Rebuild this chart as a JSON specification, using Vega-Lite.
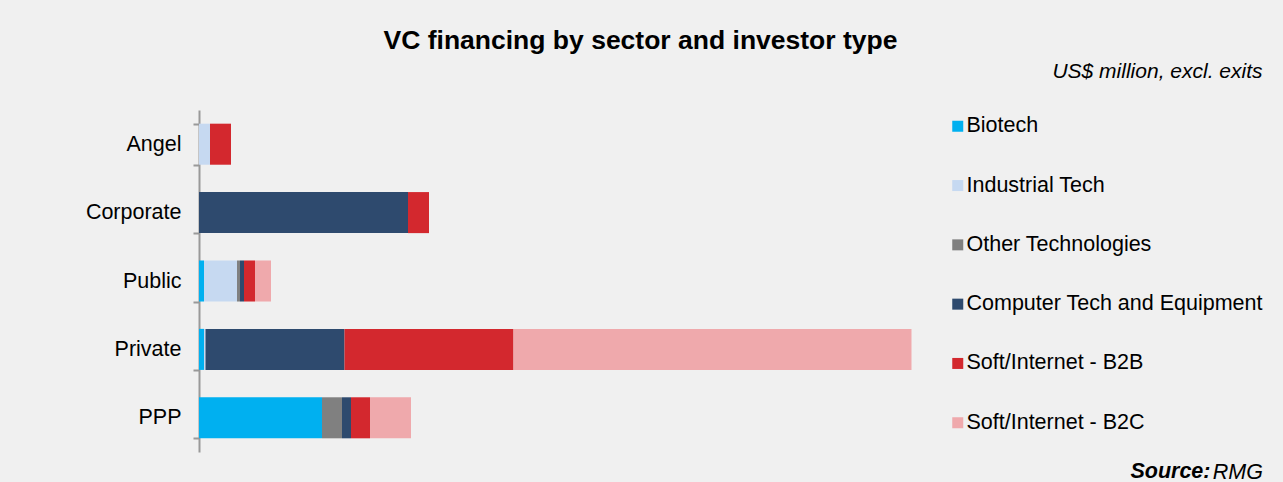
{
  "$schema": "https://vega.github.io/schema/vega-lite/v6.json",
  "width": 721,
  "height": 342,
  "autosize": {"type": "none"},
  "padding": {"left": 199, "top": 110, "right": 363, "bottom": 30},
  "background": "#f0f0f0",
  "title": {
    "text": "VC financing by sector and investor type",
    "anchor": "middle",
    "frame": "group",
    "dx": 81,
    "offset": 6,
    "font": "Liberation Sans",
    "fontSize": 26.5,
    "fontWeight": "bold",
    "color": "#000000"
  },
  "config": {
    "view": {"stroke": null},
    "font": "Liberation Sans"
  },
  "data": {
    "values": [
      {"investor": "Angel", "sector": "Industrial Tech", "idx": 2, "value": 11},
      {"investor": "Angel", "sector": "Soft/Internet - B2B", "idx": 5, "value": 21},
      {"investor": "Corporate", "sector": "Computer Tech and Equipment", "idx": 4, "value": 209},
      {"investor": "Corporate", "sector": "Soft/Internet - B2B", "idx": 5, "value": 21},
      {"investor": "Public", "sector": "Biotech", "idx": 1, "value": 5},
      {"investor": "Public", "sector": "Industrial Tech", "idx": 2, "value": 33},
      {"investor": "Public", "sector": "Other Technologies", "idx": 3, "value": 3},
      {"investor": "Public", "sector": "Computer Tech and Equipment", "idx": 4, "value": 4},
      {"investor": "Public", "sector": "Soft/Internet - B2B", "idx": 5, "value": 11},
      {"investor": "Public", "sector": "Soft/Internet - B2C", "idx": 6, "value": 16},
      {"investor": "Private", "sector": "Biotech", "idx": 1, "value": 5},
      {"investor": "Private", "sector": "Industrial Tech", "idx": 2, "value": 1.5},
      {"investor": "Private", "sector": "Computer Tech and Equipment", "idx": 4, "value": 139},
      {"investor": "Private", "sector": "Soft/Internet - B2B", "idx": 5, "value": 169},
      {"investor": "Private", "sector": "Soft/Internet - B2C", "idx": 6, "value": 398},
      {"investor": "PPP", "sector": "Biotech", "idx": 1, "value": 123},
      {"investor": "PPP", "sector": "Other Technologies", "idx": 3, "value": 20},
      {"investor": "PPP", "sector": "Computer Tech and Equipment", "idx": 4, "value": 9},
      {"investor": "PPP", "sector": "Soft/Internet - B2B", "idx": 5, "value": 19},
      {"investor": "PPP", "sector": "Soft/Internet - B2C", "idx": 6, "value": 41}
    ]
  },
  "mark": {"type": "bar"},
  "encoding": {
    "y": {
      "field": "investor",
      "type": "nominal",
      "sort": ["Angel", "Corporate", "Public", "Private", "PPP"],
      "scale": {"paddingInner": 0.4, "paddingOuter": 0.2},
      "axis": {
        "title": "US$ million, excl. exits",
        "titleAngle": 0,
        "titleX": 1063,
        "titleY": -33,
        "titleAlign": "right",
        "titleBaseline": "alphabetic",
        "titleFont": "Liberation Sans",
        "titleFontSize": 21,
        "titleFontStyle": "italic",
        "titleFontWeight": "normal",
        "titleColor": "#000000",
        "labelFont": "Liberation Sans",
        "labelFontSize": 21.5,
        "labelColor": "#000000",
        "labelPadding": 12,
        "tickBand": "extent",
        "tickSize": 6,
        "tickColor": "#999999",
        "tickWidth": 2,
        "domainColor": "#999999",
        "domainWidth": 2,
        "grid": false
      }
    },
    "x": {
      "field": "value",
      "type": "quantitative",
      "stack": "zero",
      "scale": {"domain": [0, 721], "nice": false},
      "axis": {
        "title": "Source:",
        "labels": false,
        "ticks": false,
        "domain": false,
        "grid": false,
        "titleX": 1011,
        "titleY": 25,
        "titleAlign": "right",
        "titleBaseline": "alphabetic",
        "titleFont": "Liberation Sans",
        "titleFontSize": 21.5,
        "titleFontStyle": "italic",
        "titleFontWeight": "bold",
        "titleColor": "#000000"
      }
    },
    "color": {
      "field": "sector",
      "type": "nominal",
      "scale": {
        "domain": ["Biotech", "Industrial Tech", "Other Technologies", "Computer Tech and Equipment", "Soft/Internet - B2B", "Soft/Internet - B2C"],
        "range": ["#00b0f0", "#c6d9f1", "#808080", "#2e4a6e", "#d3282e", "#efa9ac"]
      },
      "legend": {
        "orient": "none",
        "legendX": 748,
        "legendY": 5.5,
        "padding": 0,
        "title": "RMG",
        "titleOrient": "bottom",
        "titleAnchor": "end",
        "titlePadding": 28,
        "titleFont": "Liberation Sans",
        "titleFontSize": 21.5,
        "titleFontStyle": "italic",
        "titleFontWeight": "normal",
        "titleColor": "#000000",
        "symbolType": "square",
        "symbolSize": 121,
        "symbolStrokeWidth": 0,
        "labelFont": "Liberation Sans",
        "labelFontSize": 21.5,
        "labelColor": "#000000",
        "labelOffset": -2,
        "labelLimit": 400,
        "rowPadding": 36.3
      }
    },
    "order": {"field": "idx", "type": "quantitative"}
  }
}
